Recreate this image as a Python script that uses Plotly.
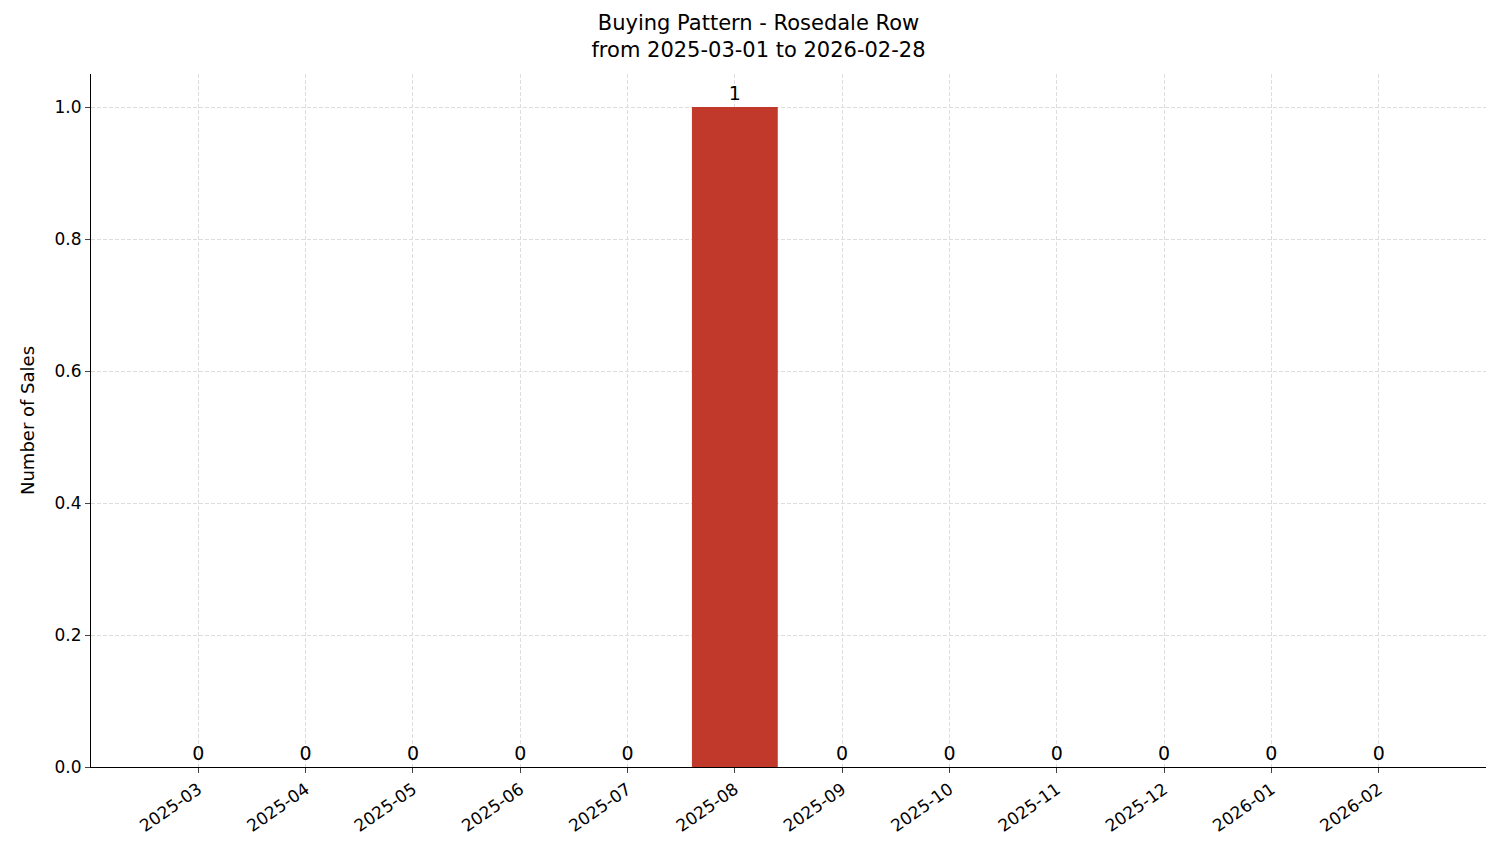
import plotly.graph_objects as go

months = ["2025-03", "2025-04", "2025-05", "2025-06", "2025-07", "2025-08",
          "2025-09", "2025-10", "2025-11", "2025-12", "2026-01", "2026-02"]
sales = [0, 0, 0, 0, 0, 1, 0, 0, 0, 0, 0, 0]

fig = go.Figure()
fig.add_trace(go.Bar(
    x=list(range(len(months))), y=sales, width=0.8,
    marker=dict(color="#c0392b", line=dict(width=0)),
    text=[str(v) for v in sales], textposition="outside",
    textfont=dict(size=19, color="black"), cliponaxis=False,
))

fig.update_layout(
    width=1501, height=863,
    paper_bgcolor="white", plot_bgcolor="white",
    font=dict(family="DejaVu Sans", size=17, color="black"),
    title=dict(text="Buying Pattern - Rosedale Row<br>from 2025-03-01 to 2026-02-28",
               x=0.5, xanchor="center", y=0.975, yanchor="top",
               font=dict(size=21)),
    margin=dict(l=83, r=23, t=66, b=104),
    showlegend=False,
    xaxis=dict(range=[-1, 12], tickvals=list(range(len(months))), ticktext=months,
               tickangle=-35, showline=True, linecolor="black", ticks="outside",
               ticklen=5, showgrid=True, gridcolor="#dddddd", griddash="4px,2px",
               gridwidth=0.8, zeroline=False, tickfont=dict(size=17)),
    yaxis=dict(range=[0, 1.05], tickvals=[0, 0.2, 0.4, 0.6, 0.8, 1.0],
               ticktext=["0.0", "0.2", "0.4", "0.6", "0.8", "1.0"],
               showline=True, linecolor="black", ticks="outside", ticklen=5,
               showgrid=True, gridcolor="#dddddd", griddash="4px,2px", gridwidth=0.8,
               zeroline=False, title=dict(text="Number of Sales", font=dict(size=18)),
               tickfont=dict(size=17)),
)

fig.write_html("out.html")
